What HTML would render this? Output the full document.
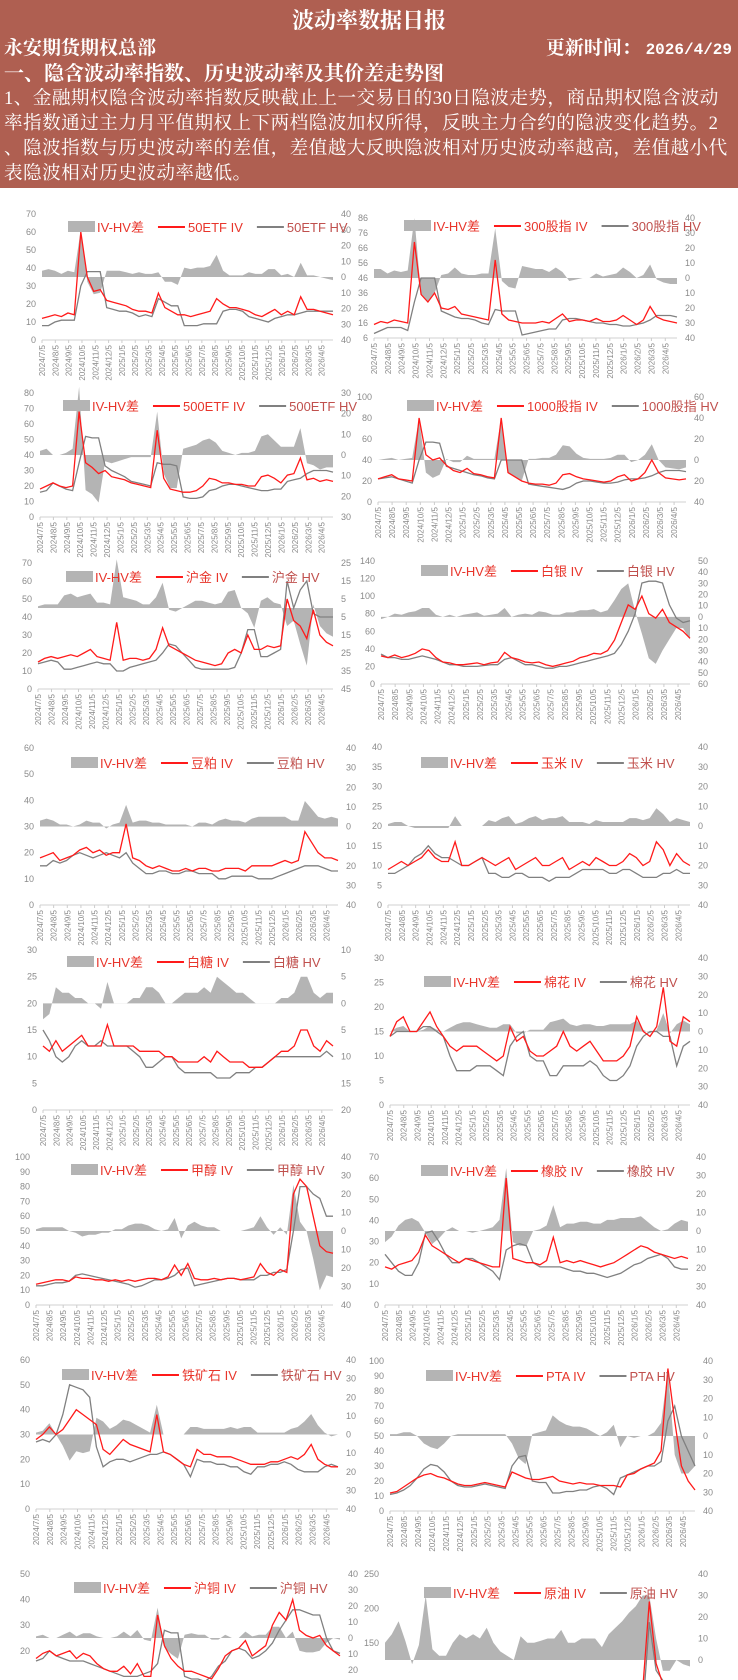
<!DOCTYPE html>
<html><head><meta charset="utf-8">
<style>
html,body{margin:0;padding:0;background:#fff;}
body{width:738px;height:1680px;position:relative;overflow:hidden;font-family:"Liberation Sans","Noto Sans CJK SC",sans-serif;}
#hdr{position:absolute;left:0;top:0;width:738px;height:188px;background:#af5f51;color:#fff;font-family:"Liberation Serif","Noto Serif CJK SC",serif;}
#hdr div{position:absolute;white-space:nowrap;}
svg{position:absolute;left:0;top:0;overflow:hidden;}
</style></head><body>
<div id="hdr">
  <div style="left:0;width:738px;text-align:center;top:4px;font-size:22px;font-weight:bold;">波动率数据日报</div>
  <div style="left:4px;top:33px;font-size:19px;font-weight:bold;">永安期货期权总部</div>
  <div style="right:6px;top:33px;font-size:19px;font-weight:bold;">更新时间： <span style="font-size:16px;font-family:'Liberation Mono',monospace;">2026/4/29</span></div>
  <div style="left:4px;top:57px;font-size:20px;font-weight:bold;">一、隐含波动率指数、历史波动率及其价差走势图</div>
  <div style="left:4px;top:86px;font-size:18.6px;line-height:25px;letter-spacing:0.45px;">1、金融期权隐含波动率指数反映截止上一交易日的30日隐波走势，商品期权隐含波动<br>率指数通过主力月平值期权上下两档隐波加权所得，反映主力合约的隐波变化趋势。2<br>、隐波指数与历史波动率的差值，差值越大反映隐波相对历史波动率越高，差值越小代<br>表隐波相对历史波动率越低。</div>
</div>
<svg id="charts" width="738" height="1680"></svg>
<script>
// ---- data (half-month samples, 2024/7/5 .. 2026/4/29) ----
const dateLabels=["2024/7/5","2024/8/5","2024/9/5","2024/10/5","2024/11/5","2024/12/5","2025/1/5","2025/2/5","2025/3/5","2025/4/5","2025/5/5","2025/6/5","2025/7/5","2025/8/5","2025/9/5","2025/10/5","2025/11/5","2025/12/5","2026/1/5","2026/2/5","2026/3/5","2026/4/5"];
const etf50IV=[12,13,14,13,15,14,60,35,27,28,22,21,20,19,17,16,16,15,26,18,16,14,14,13,14,15,16,23,20,18,18,17,16,14,13,15,17,14,16,14,24,17,17,16,15,14];
const etf50HV=[8,8,10,11,11,11,30,38,38,38,18,17,16,16,15,13,14,13,23,21,19,19,8,8,8,9,9,9,16,17,17,16,13,12,11,10,12,13,14,14,15,16,16,16,16,16];
const hs300IV=[15,17,16,18,17,16,70,35,30,36,26,25,27,22,21,20,19,18,58,22,18,17,16,16,16,17,16,19,22,17,18,18,17,19,17,17,18,21,18,15,18,27,20,18,17,16];
const hs300HV=[9,11,13,13,13,11,30,46,46,46,24,22,20,19,19,18,16,15,25,24,24,24,8,9,10,11,12,12,18,19,19,18,17,16,16,15,15,14,14,15,16,18,21,21,21,20];
const etf500IV=[18,20,22,20,19,20,68,35,32,28,30,26,25,24,22,21,20,19,56,25,18,17,16,16,17,20,25,24,22,22,21,21,20,20,26,27,25,22,27,28,38,24,25,23,24,23];
const etf500HV=[16,17,22,20,18,17,35,52,51,51,33,30,28,26,23,22,21,20,35,34,34,33,13,12,12,13,17,18,20,21,21,20,19,18,17,17,18,18,23,24,25,28,30,30,30,29];
const zz1000IV=[22,24,26,22,21,20,80,45,40,42,35,30,28,32,27,26,24,23,80,28,24,20,18,17,17,16,18,26,27,24,22,21,20,19,20,24,26,20,22,28,40,28,23,22,21,22];
const zz1000HV=[22,23,24,22,20,18,40,57,57,56,34,32,30,28,26,25,23,22,40,40,40,40,17,16,15,14,13,12,14,18,20,20,19,18,18,19,21,22,22,23,25,28,30,30,30,29];
const goldIV=[15,17,18,17,18,19,18,20,22,18,17,16,37,16,17,17,16,17,22,34,24,22,20,18,16,15,14,13,14,20,22,20,30,22,22,24,23,24,50,38,35,28,44,30,26,24];
const goldHV=[14,15,16,15,11,11,12,13,14,15,14,14,10,10,12,13,14,15,16,20,25,24,20,16,12,11,11,11,11,11,12,20,33,33,18,18,20,22,60,45,55,60,42,40,40,40];
const silverIV=[32,30,33,30,32,35,40,38,30,25,24,22,22,23,24,22,24,25,36,30,28,25,24,25,22,20,22,24,26,30,32,35,34,38,50,70,90,85,100,80,75,85,70,65,60,52];
const silverHV=[34,30,30,28,28,30,32,30,28,25,22,22,20,20,20,21,22,22,28,30,26,22,22,20,18,18,20,20,22,24,26,28,30,32,35,45,60,80,115,117,117,115,90,75,70,72];
const mealIV=[18,19,20,17,18,19,21,22,20,21,19,20,20,31,18,17,15,14,15,14,13,13,14,13,14,14,13,13,14,14,14,13,15,15,15,15,16,17,16,17,28,24,20,18,18,17];
const mealHV=[15,15,17,16,17,19,20,19,18,19,20,19,18,20,16,14,12,12,13,13,12,12,13,13,12,12,12,10,10,11,11,11,11,10,10,10,11,12,13,14,15,15,15,14,13,13];
const cornIV=[9,10,11,10,11,12,14,12,11,11,16,10,10,11,12,11,10,11,12,9,10,11,12,10,10,11,12,9,10,11,10,12,11,10,10,11,13,12,10,11,16,14,10,13,11,10];
const cornHV=[8,8,9,10,12,13,15,13,12,12,11,10,10,11,12,8,8,7,7,8,8,7,7,7,6,7,7,7,8,9,9,9,9,8,8,9,9,8,7,7,7,8,8,9,8,8];
const sugarIV=[12,11,13,11,12,13,14,12,12,12,16,12,12,12,12,11,11,11,11,10,10,9,9,9,9,10,9,11,10,9,9,9,8,8,8,9,10,11,11,12,15,15,12,11,13,12];
const sugarHV=[15,13,10,9,10,12,13,12,12,13,12,12,12,12,11,10,8,8,9,10,10,8,7,7,7,7,7,6,6,6,7,7,7,8,8,9,10,10,10,10,10,10,10,10,11,10];
const cottonIV=[14,17,18,15,15,17,19,16,14,12,11,12,12,12,11,10,9,10,16,13,14,11,10,10,11,12,15,12,11,12,13,11,9,9,9,10,12,18,15,14,16,24,13,12,18,17];
const cottonHV=[14,15,15,15,15,16,16,15,14,10,7,7,7,8,8,8,7,6,12,14,15,10,9,9,6,6,8,8,8,8,9,8,6,5,5,6,8,12,14,15,15,14,14,8,12,13];
const methIV=[14,15,16,17,17,16,19,18,18,17,17,16,17,16,17,16,17,18,18,17,19,27,20,28,18,17,17,18,17,18,18,17,18,19,28,22,20,24,22,75,85,80,60,40,36,35];
const methHV=[13,13,14,15,15,16,20,21,20,19,18,17,16,15,14,12,13,15,17,17,18,20,24,25,13,14,15,16,17,18,18,17,17,17,20,20,22,22,24,50,80,80,75,72,60,60];
const rubberIV=[18,17,19,20,21,25,33,28,26,24,22,20,22,21,20,19,18,18,60,22,21,20,20,19,21,32,20,21,20,21,20,19,18,19,20,22,24,26,28,27,25,24,23,22,23,22];
const rubberHV=[24,20,16,14,14,20,34,35,30,24,20,20,22,22,20,18,16,12,26,28,29,28,20,18,18,18,18,17,16,16,15,15,14,13,14,15,17,19,20,22,23,24,22,18,17,17];
const ironIV=[28,30,33,30,32,36,40,38,36,34,24,22,25,28,26,25,24,23,38,23,22,20,18,17,24,22,22,21,21,21,20,19,18,18,18,19,19,20,21,20,22,26,20,18,17,17];
const ironHV=[27,28,27,30,38,50,49,48,45,25,17,19,20,20,19,20,21,22,22,23,22,20,18,13,20,19,19,18,18,17,17,15,14,17,17,18,18,19,18,16,15,15,15,17,18,17];
const ptaIV=[12,13,16,19,22,24,25,23,22,20,18,17,17,18,19,18,17,16,26,24,22,21,21,22,23,20,19,18,19,18,18,17,17,17,16,24,25,28,30,32,40,95,60,30,20,14];
const ptaHV=[11,12,14,17,22,28,31,30,26,20,17,16,16,17,18,17,16,15,30,36,37,20,19,19,12,12,13,13,14,14,16,17,15,11,22,24,26,28,30,30,33,60,70,50,40,30];
const copperIV=[17,19,20,18,19,20,17,19,18,15,13,12,12,14,11,15,10,10,34,22,17,14,12,12,11,10,9,13,18,20,21,24,18,20,22,30,35,32,40,28,26,25,26,22,20,18];
const copperHV=[16,17,20,18,17,16,16,16,15,14,13,12,11,10,10,10,11,12,15,28,27,27,10,9,9,8,10,14,16,20,21,20,17,18,20,23,28,32,36,36,35,34,34,25,20,19];
const crudeIV=[40,42,48,44,40,45,60,45,40,38,40,42,44,42,40,45,40,42,60,50,45,40,38,35,38,40,42,38,36,38,40,38,36,40,45,50,55,60,80,210,120,90,80,70,60,55];
const crudeHV=[32,30,30,35,42,38,30,40,38,36,32,30,34,30,30,30,32,38,58,50,34,32,30,26,28,30,28,30,28,28,30,28,30,28,30,32,33,35,50,180,110,95,85,70,62,58];

// ---- layout config (geometry only) ----
const charts=[
 {id:"50etf",name:"50ETF",iv:etf50IV,hv:etf50HV,x0:42,x1:333,yT:214,yB:340,lMin:0,lMax:70,lStep:10,rMin:-40,rMax:40,rStep:10,lg:68,ly:227},
 {id:"300",name:"300股指",iv:hs300IV,hv:hs300HV,x0:374,x1:677,yT:218,yB:338,lMin:6,lMax:86,lStep:10,rMin:-40,rMax:40,rStep:10,lg:404,ly:226},
 {id:"500etf",name:"500ETF",iv:etf500IV,hv:etf500HV,x0:40,x1:333,yT:393,yB:517,lMin:0,lMax:80,lStep:10,rMin:-30,rMax:30,rStep:10,lg:63,ly:406},
 {id:"1000",name:"1000股指",iv:zz1000IV,hv:zz1000HV,x0:378,x1:686,yT:397,yB:502,lMin:0,lMax:100,lStep:20,rMin:-40,rMax:60,rStep:20,lg:407,ly:406},
 {id:"gold",name:"沪金",iv:goldIV,hv:goldHV,x0:38,x1:333,yT:563,yB:689,lMin:0,lMax:70,lStep:10,rMin:-45,rMax:25,rStep:10,lg:66,ly:577},
 {id:"silver",name:"白银",iv:silverIV,hv:silverHV,x0:381,x1:690,yT:561,yB:684,lMin:0,lMax:140,lStep:20,rMin:-60,rMax:50,rStep:10,lg:421,ly:571},
 {id:"meal",name:"豆粕",iv:mealIV,hv:mealHV,x0:40,x1:338,yT:748,yB:905,lMin:0,lMax:60,lStep:10,rMin:-40,rMax:40,rStep:10,lg:71,ly:763},
 {id:"corn",name:"玉米",iv:cornIV,hv:cornHV,x0:388,x1:690,yT:747,yB:905,lMin:0,lMax:40,lStep:5,rMin:-40,rMax:40,rStep:10,lg:421,ly:763},
 {id:"sugar",name:"白糖",iv:sugarIV,hv:sugarHV,x0:43,x1:333,yT:950,yB:1110,lMin:0,lMax:30,lStep:5,rMin:-20,rMax:10,rStep:5,lg:67,ly:962},
 {id:"cotton",name:"棉花",iv:cottonIV,hv:cottonHV,x0:390,x1:690,yT:958,yB:1105,lMin:0,lMax:30,lStep:5,rMin:-40,rMax:40,rStep:10,lg:424,ly:982},
 {id:"meth",name:"甲醇",iv:methIV,hv:methHV,x0:36,x1:333,yT:1157,yB:1305,lMin:0,lMax:100,lStep:10,rMin:-40,rMax:40,rStep:10,lg:71,ly:1170},
 {id:"rubber",name:"橡胶",iv:rubberIV,hv:rubberHV,x0:385,x1:688,yT:1157,yB:1305,lMin:0,lMax:70,lStep:10,rMin:-40,rMax:40,rStep:10,lg:421,ly:1171},
 {id:"iron",name:"铁矿石",iv:ironIV,hv:ironHV,x0:36,x1:338,yT:1360,yB:1509,lMin:0,lMax:60,lStep:10,rMin:-40,rMax:40,rStep:10,lg:62,ly:1375},
 {id:"pta",name:"PTA",iv:ptaIV,hv:ptaHV,x0:390,x1:695,yT:1361,yB:1511,lMin:0,lMax:100,lStep:10,rMin:-40,rMax:40,rStep:10,lg:426,ly:1376},
 {id:"copper",name:"沪铜",iv:copperIV,hv:copperHV,x0:36,x1:340,yT:1574,yB:1702,lMin:0,lMax:50,lStep:10,rMin:-40,rMax:40,rStep:10,lg:74,ly:1588},
 {id:"crude",name:"原油",iv:crudeIV,hv:crudeHV,x0:385,x1:690,yT:1574,yB:1746,lMin:0,lMax:250,lStep:50,rMin:-40,rMax:40,rStep:10,lg:424,ly:1593}
];
const NS="http://www.w3.org/2000/svg";
const root=document.getElementById('charts');
const H=1680;
function mk(tag,attrs,parent){const e=document.createElementNS(NS,tag);for(const k in attrs)e.setAttribute(k,attrs[k]);(parent||root).appendChild(e);return e;}
const clip=mk('clipPath',{id:'pageclip'});
mk('rect',{x:0,y:0,width:738,height:H},clip);

charts.forEach(c=>{
  const g=mk('g',{'clip-path':'url(#pageclip)'});
  
  
  const n=c.iv.length;
  const W=c.x1-c.x0;
  const xs=i=>c.x0+i/(n-1)*W;
  const yl=v=>c.yB-(v-c.lMin)/(c.lMax-c.lMin)*(c.yB-c.yT);
  const yr=v=>c.yB-(v-c.rMin)/(c.rMax-c.rMin)*(c.yB-c.yT);
  for(let v=c.lMin;v<=c.lMax+1e-6;v+=c.lStep){
    if(yl(v)>H-4)continue;
    const t=mk('text',{x:c.x0-6,y:yl(v)+3,'text-anchor':'end','font-size':9,fill:'#8a8a8a'},g);
    t.textContent=v;
    
    
  }
  for(let v=c.rMax;v>=c.rMin-1e-6;v-=c.rStep){
    if(yr(v)>H-4)continue;
    const t=mk('text',{x:c.x1+8,y:yr(v)+3,'font-size':9,fill:'#8a8a8a'},g);
    t.textContent=Math.abs(v);
    
    
  }
  const z=yr(0);
  let d='M'+xs(0)+','+z;
  for(let i=0;i<n;i++){d+=' L'+xs(i).toFixed(1)+','+yr(c.iv[i]-c.hv[i]).toFixed(1);}
  d+=' L'+xs(n-1)+','+z+' Z';
  const a=mk('path',{d:d,fill:'#b4b4b4'},g);
  
  
  if(c.yB<H){
    const ax=mk('line',{x1:c.x0,x2:c.x1,y1:c.yB,y2:c.yB,stroke:'#d0d0d0','stroke-width':1},g);
    
    
    dateLabels.forEach((lb,m)=>{
      const x=c.x0+m*2.06/(n-1)*W;
      mk('line',{x1:x,x2:x,y1:c.yB,y2:c.yB+3,stroke:'#ccc'},g);
      const t=mk('text',{x:0,y:0,'font-size':8,fill:'#8a8a8a','text-anchor':'end',transform:'translate('+(x+3)+','+(c.yB+5)+') rotate(-90)'},g);
      t.textContent=lb;
      
      
    });
  }
  const pts=arr=>arr.map((v,i)=>xs(i).toFixed(1)+','+yl(v).toFixed(1)).join(' ');
  const hv=mk('polyline',{points:pts(c.hv),fill:'none',stroke:'#808080','stroke-width':1.3},g);
  
  
  const iv=mk('polyline',{points:pts(c.iv),fill:'none',stroke:'#ff1a1a','stroke-width':1.3},g);
  
  
  const lgd=mk('g',{},g);
  
  
  let x=c.lg;const y=c.ly;
  mk('rect',{x:x,y:y-6,width:27,height:11,fill:'#b4b4b4'},lgd);
  let t=mk('text',{x:x+29,y:y+5,'font-size':13,fill:'#e8352b'},lgd);t.textContent='IV-HV差';
  
  
  x=x+29+t.getComputedTextLength()+14;
  mk('line',{x1:x,x2:x+27,y1:y,y2:y,stroke:'#ff1a1a','stroke-width':2},lgd);
  t=mk('text',{x:x+30,y:y+5,'font-size':13,fill:'#e8352b'},lgd);t.textContent=c.name+' IV';
  
  
  x=x+30+t.getComputedTextLength()+14;
  mk('line',{x1:x,x2:x+27,y1:y,y2:y,stroke:'#808080','stroke-width':2},lgd);
  t=mk('text',{x:x+30,y:y+5,'font-size':13,fill:'#c0504d'},lgd);t.textContent=c.name+' HV';
  
  
});
</script>
</body></html>
